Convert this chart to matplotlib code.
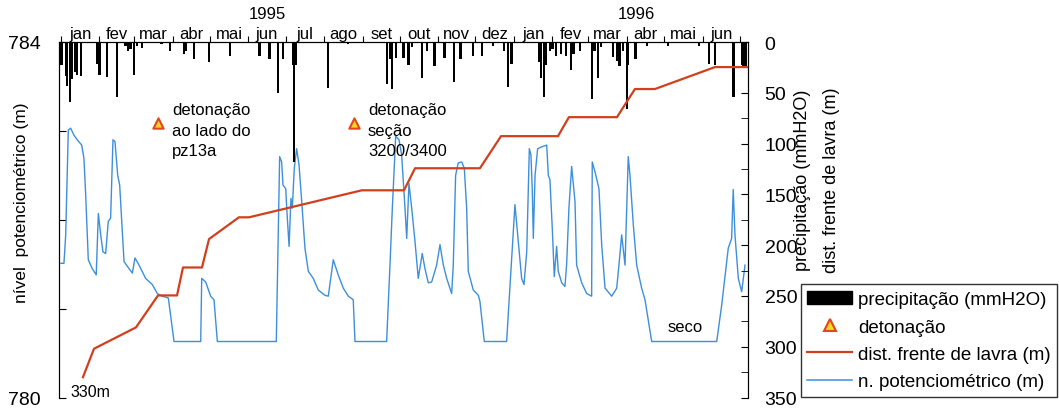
import numpy as np
import matplotlib.pyplot as plt
from matplotlib.lines import Line2D
from matplotlib.patches import Patch

plt.rcParams['font.family'] = ['Liberation Sans', 'DejaVu Sans']

# dias contados a partir de 01/01/1995
meses = ['jan', 'fev', 'mar', 'abr', 'mai', 'jun', 'jul', 'ago', 'set', 'out', 'nov', 'dez',
         'jan', 'fev', 'mar', 'abr', 'mai', 'jun']
dias_mes = [31, 28, 31, 30, 31, 30, 31, 31, 30, 31, 30, 31, 31, 29, 31, 30, 31, 30]

# nivel potenciometrico (m)
nivel_dias = [0, 2.4, 3.8, 5.9, 7.8, 10.5, 13.1, 16.7, 18.5, 19.9,
              22.0, 25.2, 28.4, 30.1, 32.0, 33.8, 36.0, 38.1, 40.0, 41.9,
              43.5, 45.7, 47.3, 50.8, 54.8, 57.5, 59.6, 62.9, 68.2, 73.6,
              77.6, 81.6, 86.5, 91.1, 112.6, 113.4, 116.6, 120.6, 123.3, 126.0,
              173.5, 176.2, 177.8, 178.9, 181.1, 181.9, 183.8, 185.3, 186.4, 188.0,
              189.9, 191.8, 194.0, 196.6, 199.3, 203.3, 207.3, 212.7, 215.4, 219.4,
              223.4, 227.5, 231.5, 235.5, 236.9, 262.4, 265.1, 267.0, 269.7, 272.4,
              274.5, 277.2, 278.6, 280.4, 282.6, 285.3, 287.9, 291.1, 293.3, 296.0,
              298.7, 302.7, 305.4, 308.1, 310.8, 314.8, 316.1, 318.0, 320.1, 322.9,
              325.0, 326.9, 328.2, 332.2, 336.3, 337.6, 341.1, 359.1, 363.2, 365.8,
              368.5, 371.2, 373.1, 375.3, 377.4, 378.7, 379.8, 380.6, 382.0, 384.1,
              387.3, 391.4, 392.7, 394.0, 395.9, 397.5, 399.4, 400.7, 403.5, 406.1,
              407.5, 409.3, 411.5, 414.2, 415.5, 419.6, 423.6, 427.6, 428.1, 430.3,
              433.5, 435.7, 438.4, 443.8, 447.8, 449.6, 451.8, 454.5, 457.1, 458.5,
              461.2, 463.9, 467.9, 470.6, 476.0, 528.4, 532.4, 537.7, 540.4, 541.7,
              543.1, 545.8, 548.5, 551.2]
nivel = [781.51, 781.51, 781.83, 783.01, 783.03, 782.95, 782.90, 782.84, 782.69, 782.28,
         781.55, 781.45, 781.38, 782.07, 781.83, 781.64, 781.62, 781.98, 782.02, 782.90,
         782.88, 782.50, 782.39, 781.53, 781.45, 781.40, 781.57, 781.49, 781.34, 781.27,
         781.17, 781.14, 781.12, 780.63, 780.63, 781.34, 781.30, 781.14, 781.10, 780.63,
         780.63, 782.71, 782.65, 782.39, 782.35, 782.13, 781.70, 782.24, 782.13, 782.58,
         782.80, 782.62, 782.20, 781.68, 781.42, 781.34, 781.21, 781.15, 781.14, 781.55,
         781.38, 781.23, 781.14, 781.10, 780.63, 780.63, 781.49, 782.13, 782.94, 782.90,
         782.73, 782.13, 781.79, 782.41, 782.13, 781.75, 781.34, 781.62, 781.45, 781.29,
         781.30, 781.49, 781.72, 781.49, 781.34, 781.17, 781.49, 782.50, 782.64, 782.65,
         782.58, 782.13, 781.42, 781.21, 781.15, 781.08, 780.63, 780.63, 781.57, 782.17,
         781.75, 781.34, 781.27, 781.64, 782.80, 782.73, 782.32, 781.79, 782.50, 782.80,
         782.82, 782.84, 782.50, 782.45, 781.90, 781.36, 781.70, 781.42, 781.29, 781.25,
         781.51, 782.13, 782.60, 782.20, 781.49, 781.29, 781.17, 781.14, 782.65, 782.54,
         782.35, 781.72, 781.23, 781.14, 781.23, 781.49, 781.83, 781.49, 782.71, 782.50,
         781.94, 781.49, 781.23, 781.10, 780.63, 780.63, 781.04, 781.68, 781.79, 782.34,
         781.83, 781.34, 781.19, 781.49]

# precipitacao diaria (mmH2O)
chuva_dias = [0, 1, 4, 5, 7, 9, 11, 13, 16, 29, 31, 37, 45, 52, 54, 56, 59, 61, 65,
              81, 88, 99, 101, 107, 119, 136, 160, 168, 175, 179, 187, 188, 189, 215, 231,
              263, 265, 267, 270, 276, 280, 283, 291, 295, 301, 309, 317, 322, 332,
              339, 348, 357, 360, 363, 385, 387, 389, 391, 394, 396, 399, 403, 407,
              411, 413, 418, 428, 430, 433, 435, 445, 448, 450, 453, 456, 457, 463,
              472, 489, 514, 522, 527, 542, 549, 550, 552]
chuva = [23, 23, 33, 43, 59, 36, 30, 32, 33, 22, 32, 34, 54, 4, 9, 7, 32, 4, 6,
         2, 9, 12, 9, 17, 20, 14, 14, 17, 50, 17, 23, 118, 23, 45, 2,
         41, 17, 46, 16, 16, 23, 5, 35, 9, 24, 16, 39, 17, 14,
         14, 4, 9, 44, 22, 20, 35, 54, 23, 9, 7, 14, 12, 14,
         28, 12, 9, 56, 9, 35, 5, 15, 19, 24, 9, 66, 23, 17,
         4, 4, 4, 22, 23, 54, 23, 25, 25]

# distancia da frente de lavra (m)
dist_dias = [17.7, 26.6, 60.4, 78.2, 93.5, 98.3, 113.6, 119.3, 143.4, 151.5, 242.5,
             276.4, 285.3, 337.6, 354.6, 400.5, 409.3, 448.0, 462.5, 478.6, 527.0, 553.6]
dist = [330, 302, 281, 249.5, 249.5, 222, 222, 194, 172.6, 172.6, 146,
        146, 124.3, 124.3, 92.7, 92.7, 74, 74, 46.3, 46.3, 24.7, 24.7]

# detonacoes
det_dias = [78.2, 236.1]
det_y = [80, 80]
det_textos = ['detonação\nao lado do\npz13a', 'detonação\nseção\n3200/3400']

azul = '#3d8fdc'
vermelho = '#d23f1c'

fig = plt.figure(figsize=(10.59, 4.10), dpi=100)
ax = fig.add_axes([59 / 1059, 1 - 398.5 / 410, 689 / 1059, 355.5 / 410])
ax2 = ax.twinx()

ax.plot(nivel_dias, nivel, color=azul, lw=1.0)
ax.set_ylim(780, 784)
ax.set_xlim(-1.6, 553.6)
ax.set_yticks([780, 781, 782, 783, 784])
ax.set_yticklabels(['780', '', '', '', '784'])

ax2.bar(chuva_dias, chuva, width=1.8, color='black')
ax2.plot(dist_dias, dist, color=vermelho, lw=1.6)
ax2.scatter(det_dias, det_y, marker='^', s=55, facecolor='#ffd42a',
            edgecolor='#e2461c', linewidths=1.5, zorder=5)
ax2.set_ylim(350, 0)
ax2.set_yticks(np.arange(0, 351, 50))
ax2.set_yticks(np.arange(25, 351, 50), minor=True)

for d, t in zip(det_dias, det_textos):
    ax2.annotate(t, xy=(d, 80), xytext=(14, 21), textcoords='offset pixels',
                 ha='left', va='top', fontsize=12, linespacing=1.45)

ax2.text(dist_dias[0] - 10, 344, '330m', ha='left', va='center', fontsize=11.5)
ax.text(503, 780.8, 'seco', ha='center', va='center', fontsize=12)

# eixo do tempo no topo
inicio = np.concatenate([[0], np.cumsum(dias_mes)])
meio = (inicio[:-1] + inicio[1:]) / 2
ax.xaxis.tick_top()
ax.set_xticks(inicio)
ax.set_xticklabels([])
ax.set_xticks(meio, minor=True)
ax.set_xticklabels(meses, minor=True)
ax.tick_params(axis='x', which='major', top=True, bottom=False, direction='out', length=4)
ax.tick_params(axis='x', which='minor', top=True, bottom=False, length=0, pad=1, labelsize=12)
ax.text(166, 1.08, '1995', transform=ax.get_xaxis_transform(), ha='center', va='center', fontsize=12)
ax.text(464, 1.08, '1996', transform=ax.get_xaxis_transform(), ha='center', va='center', fontsize=12)

ax.tick_params(axis='y', direction='in', length=5, pad=13, labelsize=14)
ax2.tick_params(axis='y', which='both', direction='in', length=5, pad=12, labelsize=14)

for a in (ax, ax2):
    a.spines['bottom'].set_visible(False)

ax.text(-0.054, 0.55, 'nível  potenciométrico (m)', transform=ax.transAxes,
        rotation=90, ha='center', va='center', fontsize=12.5)
ax2.text(1.1, 0.615, 'precipitação (mmH2O)\ndist. frente de lavra (m)', transform=ax2.transAxes,
         rotation=90, ha='center', va='center', fontsize=13, linespacing=1.9)

handles = [Patch(facecolor='black', edgecolor='black'),
           Line2D([], [], marker='^', ls='none', mfc='#ffd42a', mec='#e2461c', mew=1.5, ms=8),
           Line2D([], [], color=vermelho, lw=1.6),
           Line2D([], [], color=azul, lw=1.1)]
labels = ['precipitação (mmH2O)', 'detonação', 'dist. frente de lavra (m)', 'n. potenciométrico (m)']
fig.legend(handles, labels, loc='lower right', bbox_to_anchor=(1057 / 1059, 1 - 398 / 410),
           frameon=True, fancybox=False, edgecolor='black', fontsize=13.5, handlelength=2.4,
           borderpad=0.35, labelspacing=0.55, handletextpad=0.3, borderaxespad=0)

fig.savefig('out.png', dpi=100)
